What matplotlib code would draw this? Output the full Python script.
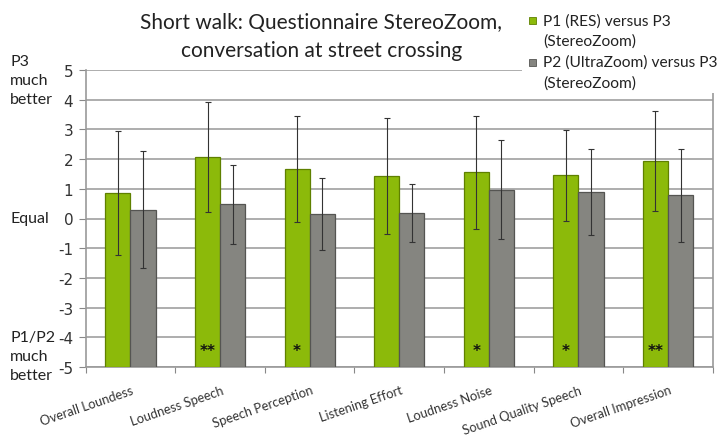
import matplotlib
matplotlib.use("Agg")
import matplotlib.pyplot as plt
import numpy as np
from matplotlib.patches import Rectangle

categories = ["Overall Loundess", "Loudness Speech", "Speech Perception",
              "Listening Effort", "Loudness Noise", "Sound Quality Speech",
              "Overall Impression"]
p1_mean = [0.86, 2.07, 1.66, 1.43, 1.56, 1.46, 1.94]
p1_sd = [2.08, 1.84, 1.79, 1.96, 1.90, 1.53, 1.68]
p2_mean = [0.30, 0.48, 0.16, 0.18, 0.97, 0.89, 0.78]
p2_sd = [1.96, 1.33, 1.22, 0.97, 1.66, 1.45, 1.56]
stars = ["", "**", "*", "", "*", "*", "**"]
series_labels = ["P1 (RES) versus P3\n(StereoZoom)",
                 "P2 (UltraZoom) versus P3\n(StereoZoom)"]
yticks = [5, 4, 3, 2, 1, 0, -1, -2, -3, -4, -5]
base = -5

font = "Lato"
green = "#8cba0a"
green_edge = "#5f8000"
gray = "#858580"
gray_edge = "#555552"

fig = plt.figure(figsize=(7.2, 4.39), dpi=100)
ax = fig.add_axes([0.119, 0.162, 0.871, 0.676])

x = np.arange(len(categories))
w = 0.28
ax.bar(x - w / 2, np.array(p1_mean) - base, w, bottom=base, color=green,
       edgecolor=green_edge, linewidth=0.9, zorder=3)
ax.bar(x + w / 2, np.array(p2_mean) - base, w, bottom=base, color=gray,
       edgecolor=gray_edge, linewidth=0.9, zorder=3)
ax.errorbar(x - w / 2, p1_mean, yerr=p1_sd, fmt="none", ecolor="#333333",
            elinewidth=0.8, capsize=2, capthick=0.8, zorder=4)
ax.errorbar(x + w / 2, p2_mean, yerr=p2_sd, fmt="none", ecolor="#333333",
            elinewidth=0.8, capsize=2, capthick=0.8, zorder=4)

for xi, s in zip(x, stars):
    if s:
        ax.text(xi - w / 2, -4.45, s, ha="center", va="center", fontsize=11,
                fontweight="bold", color="#111111", zorder=5)

ax.set_xlim(-0.5, len(categories) - 0.5)
ax.set_ylim(-5, 5)
ax.set_yticks(yticks)
ax.set_yticklabels([str(v) for v in yticks], fontsize=11, color="#333333",
                   family="DejaVu Sans")
ax.yaxis.grid(True, color="#a0a0a0", linewidth=1.2, zorder=0)
ax.set_axisbelow(True)

ax.set_xticks(np.arange(len(categories) + 1) - 0.5, minor=False)
ax.set_xticklabels([])
ax.set_xticks(x + 0.01, minor=True)
ax.set_xticklabels(categories, minor=True, rotation=19, ha="right", va="top",
                   rotation_mode="anchor", fontsize=9.3, family=font, color="#333333")
ax.tick_params(axis="x", which="minor", length=0, pad=12)
ax.tick_params(axis="x", which="major", length=4, color="#888888", direction="out")
ax.tick_params(axis="y", length=5, color="#888888", direction="out", pad=4)

for s in ["left", "bottom", "right"]:
    ax.spines[s].set_color("#9a9a9a")
    ax.spines[s].set_linewidth(1.2)
ax.spines["top"].set_visible(False)

fig.text(0.4465, 0.916, "Short walk: Questionnaire StereoZoom,\nconversation at street crossing",
         ha="center", va="center", fontsize=15, family=font, color="#222222",
         linespacing=1.5)

fig.text(0.014, 0.815, "P3\nmuch\nbetter", ha="left", va="center", fontsize=11.5,
         family=font, color="#222222", linespacing=1.45)
fig.text(0.014, 0.5, "Equal", ha="left", va="center", fontsize=11.5,
         family=font, color="#222222")
fig.text(0.014, 0.187, "P1/P2\nmuch\nbetter", ha="left", va="center", fontsize=11.5,
         family=font, color="#222222", linespacing=1.45)

# legend box
fig.patches.append(Rectangle((0.725, 0.785), 0.275, 0.215, transform=fig.transFigure,
                             facecolor="white", edgecolor="none", zorder=5))
sq_y = [0.951, 0.855]
txt_y = [0.928, 0.833]
for lab, c, ec, sy, ty in zip(series_labels, [green, gray], [green_edge, gray_edge], sq_y, txt_y):
    fig.patches.append(Rectangle((0.735, sy - 0.008), 0.0097, 0.016, transform=fig.transFigure,
                                 facecolor=c, edgecolor=ec, linewidth=0.6, zorder=6))
    fig.text(0.754, ty, lab, ha="left", va="center", fontsize=11.2, family=font,
             color="#222222", linespacing=1.55, zorder=7)

fig.savefig("out.png", dpi=100, facecolor="white")
